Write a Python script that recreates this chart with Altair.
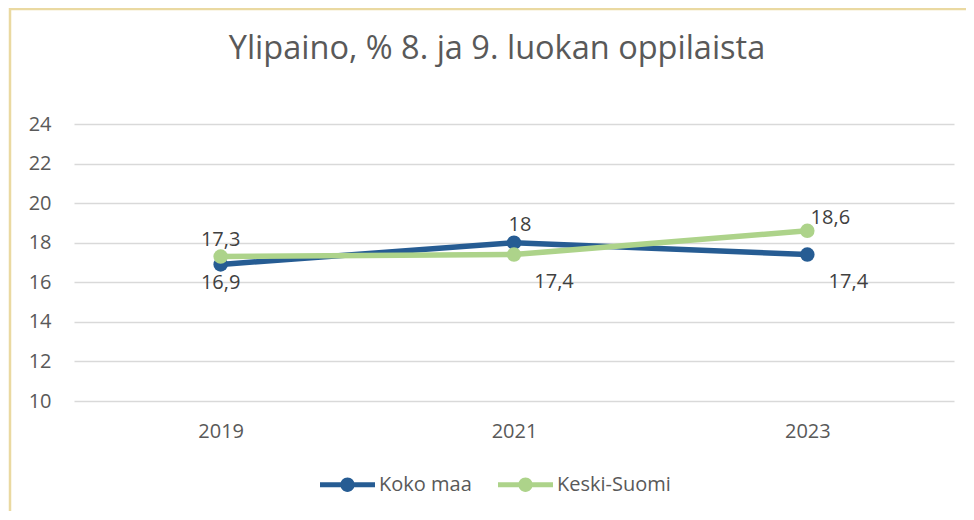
import altair as alt
import pandas as pd

years = ["2019", "2021", "2023"]
series_names = ["Koko maa", "Keski-Suomi"]
koko_maa = [16.9, 18.0, 17.4]
keski_suomi = [17.3, 17.4, 18.6]
y_ticks = [10, 12, 14, 16, 18, 20, 22, 24]
title_text = "Ylipaino, % 8. ja 9. luokan oppilaista"

colors = ["#265C93", "#ADD38A"]
FONT = "Open Sans"

rows = []
for name, vals in zip(series_names, [koko_maa, keski_suomi]):
    for yr, v in zip(years, vals):
        rows.append({"vuosi": yr, "sarja": name, "arvo": v,
                     "label": f"{v:g}".replace(".", ",")})
df = pd.DataFrame(rows)

# label offsets (style): (series, year) -> (dx, dy)
label_offsets = {
    ("Koko maa", "2019"): (0, 19),
    ("Koko maa", "2021"): (6, -18),
    ("Koko maa", "2023"): (41, 27),
    ("Keski-Suomi", "2019"): (0, -17),
    ("Keski-Suomi", "2021"): (40, 27),
    ("Keski-Suomi", "2023"): (23, -13),
}

W, H = 880, 277
x_enc = alt.X("vuosi:N", sort=years, scale=alt.Scale(padding=0.5),
              axis=alt.Axis(title=None, labelAngle=0, ticks=False, domain=False,
                            labelPadding=20, labelFontSize=20, labelColor="#595959",
                            labelFont=FONT, grid=False))
y_enc = alt.Y("arvo:Q", scale=alt.Scale(domain=[10, 24], nice=False, zero=False),
              axis=alt.Axis(title=None, values=y_ticks, ticks=False, domain=False,
                            labelPadding=23, labelFontSize=20, labelColor="#595959",
                            labelFont=FONT, grid=True, gridColor="#D9D9D9",
                            gridWidth=1.5))
color_scale = alt.Scale(domain=series_names, range=colors)

base = alt.Chart(df)
one = alt.Chart(pd.DataFrame({"t": [title_text]}))

border = one.mark_rect(
    fill=None, stroke="#EAD9A1", strokeWidth=2.5, clip=False
).encode(x=alt.value(-64), x2=alt.value(W + 300), y=alt.value(-115), y2=alt.value(H + 300))

title = one.mark_text(fontSize=32.5, font=FONT, color="#595959", align="center",
                      baseline="alphabetic").encode(
    x=alt.value(423), y=alt.value(-65), text="t:N")

layers = [border, title]
legend_path = ("M-1,-0.095 L1,-0.095 L1,0.095 L-1,0.095 Z "
               "M-0.26,0 A0.26,0.26 0 1,1 0.26,0 A0.26,0.26 0 1,1 -0.26,0 Z")
for i, name in enumerate(series_names):
    sub = base.transform_filter(alt.datum.sarja == name)
    line = sub.mark_line(strokeWidth=5.5, color=colors[i]).encode(x=x_enc, y=y_enc)
    pts = sub.mark_point(filled=True, size=210, opacity=1).encode(
        x=x_enc, y=y_enc,
        color=alt.Color("sarja:N", scale=color_scale,
                        legend=alt.Legend(title=None, orient="none", direction="horizontal",
                                          legendX=246, legendY=333,
                                          symbolType=legend_path, symbolSize=3025,
                                          symbolStrokeWidth=0, symbolOpacity=1,
                                          labelFontSize=20, labelColor="#595959",
                                          labelFont=FONT, labelOffset=4,
                                          columnPadding=26)))
    layers += [line, pts]

for (name, yr), (dx, dy) in label_offsets.items():
    t = base.transform_filter((alt.datum.sarja == name) & (alt.datum.vuosi == yr)).mark_text(
        fontSize=20, font=FONT, color="#404040", dx=dx, dy=dy, baseline="middle", align="center"
    ).encode(x=x_enc, y=y_enc, text="label:N")
    layers.append(t)

chart = alt.layer(*layers).properties(
    width=W, height=H,
    autosize=alt.AutoSizeParams(type="none"),
    padding={"left": 66, "top": 116, "right": 12, "bottom": 110},
).configure(background="white", view=alt.ViewConfig(stroke=None))

chart.save("out.html", embed_options={"renderer": "svg", "actions": False})
